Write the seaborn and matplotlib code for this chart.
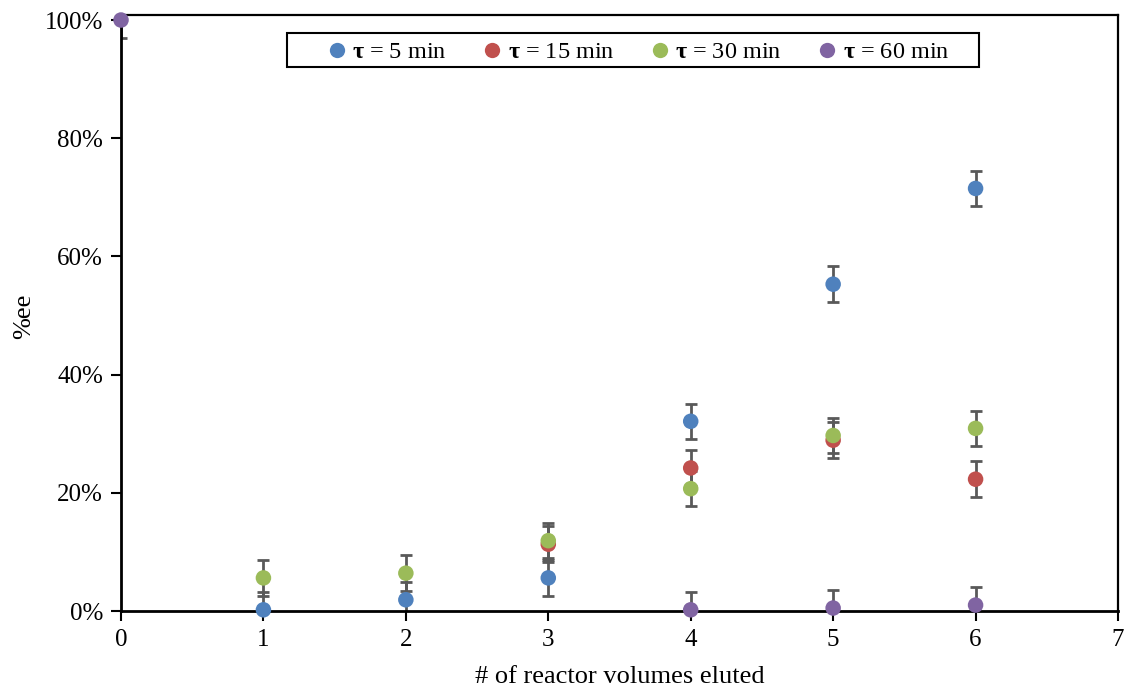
import numpy as np
import pandas as pd
import matplotlib
matplotlib.use("Agg")
import matplotlib.pyplot as plt
from matplotlib.patches import Rectangle
import seaborn as sns

# Reactor volumes eluted and measured %ee for each residence time
series_names = ["τ = 5 min", "τ = 15 min", "τ = 30 min", "τ = 60 min"]
colors = ["#4F81BD", "#C0504D", "#9BBB59", "#8064A2"]

x_5 = [1, 2, 3, 4, 5, 6]
ee_5 = [0.002, 0.019, 0.056, 0.321, 0.553, 0.715]

x_15 = [3, 4, 5, 6]
ee_15 = [0.113, 0.242, 0.289, 0.223]

x_30 = [1, 2, 3, 4, 5, 6]
ee_30 = [0.056, 0.064, 0.119, 0.207, 0.297, 0.309]

x_60 = [0, 4, 5, 6]
ee_60 = [1.000, 0.002, 0.005, 0.010]

err = 0.03  # symmetric error on every point

xs = [x_5, x_15, x_30, x_60]
ys = [ee_5, ee_15, ee_30, ee_60]

frames = []
for name, xv, yv in zip(series_names, xs, ys):
    frames.append(pd.DataFrame({"volumes": xv, "ee": yv, "series": name}))
df = pd.concat(frames, ignore_index=True)

sns.set_style("white")
plt.rcParams["font.family"] = ["Liberation Serif", "DejaVu Serif"]
plt.rcParams["mathtext.fontset"] = "custom"
plt.rcParams["mathtext.rm"] = "Liberation Serif"
plt.rcParams["mathtext.bf"] = "Liberation Serif:bold"
for key in ["text.color", "axes.labelcolor", "xtick.color", "ytick.color"]:
    plt.rcParams[key] = "black"

W, H = 1124, 687
fig = plt.figure(figsize=(W / 100, H / 100), dpi=100)
ax = fig.add_axes([121 / W, 1 - 611 / H, 997 / W, 596 / H])

# error bars first, markers on top
for name, col in zip(series_names, colors):
    sub = df[df["series"] == name]
    ax.errorbar(sub["volumes"], sub["ee"], yerr=err, fmt="none",
                ecolor="#595959", elinewidth=2, capsize=4.4, capthick=2,
                zorder=2, clip_on=True)

palette = dict(zip(series_names, colors))
sns.scatterplot(data=df, x="volumes", y="ee", hue="series", palette=palette,
                hue_order=series_names, s=125, linewidth=0, ax=ax,
                zorder=3, clip_on=False, legend=False)

ax.set_xlim(0, 7)
ax.set_ylim(0, 1.0085)
ax.set_xticks(range(0, 8))
yt = np.arange(0, 1.01, 0.2)
ax.set_yticks(yt)
ax.set_yticklabels([f"{int(round(v * 100))}%" for v in yt])

for side in ["left", "bottom", "top", "right"]:
    ax.spines[side].set_visible(True)
    ax.spines[side].set_color("black")
ax.spines["left"].set_linewidth(2)
ax.spines["bottom"].set_linewidth(2)
ax.spines["top"].set_linewidth(1.6)
ax.spines["right"].set_linewidth(1.6)

ax.tick_params(axis="both", which="major", labelsize=18, direction="out",
               length=7, width=1.5, color="black", left=True, bottom=True, pad=6)

ax.set_xlabel("# of reactor volumes eluted", fontsize=19)
ax.set_ylabel("%ee", fontsize=19)
ax.xaxis.set_label_coords(0.5005, (611 - 666) / 596)
ax.yaxis.set_label_coords((35 - 121) / 997, 0.495)

handles = [plt.Line2D([], [], marker="o", linestyle="none", markersize=11,
                      markerfacecolor=c, markeredgecolor="none") for c in colors]
labels = [r"$\mathbf{τ}$ = " + n.split("= ")[1] for n in series_names]
leg = ax.legend(handles, labels, loc="center",
                bbox_to_anchor=((637 - 121) / 997, (611 - 52) / 596),
                ncol=4, fontsize=17.5, frameon=False,
                handletextpad=0.15, columnspacing=1.36,
                borderpad=0.2, handlelength=1.0)

# legend box
fig.patches.append(Rectangle((287 / W, 1 - 67 / H), 692 / W, 34 / H,
                             transform=fig.transFigure, fill=False,
                             edgecolor="black", linewidth=1.5, zorder=5))

fig.savefig("out.png", dpi=100)
